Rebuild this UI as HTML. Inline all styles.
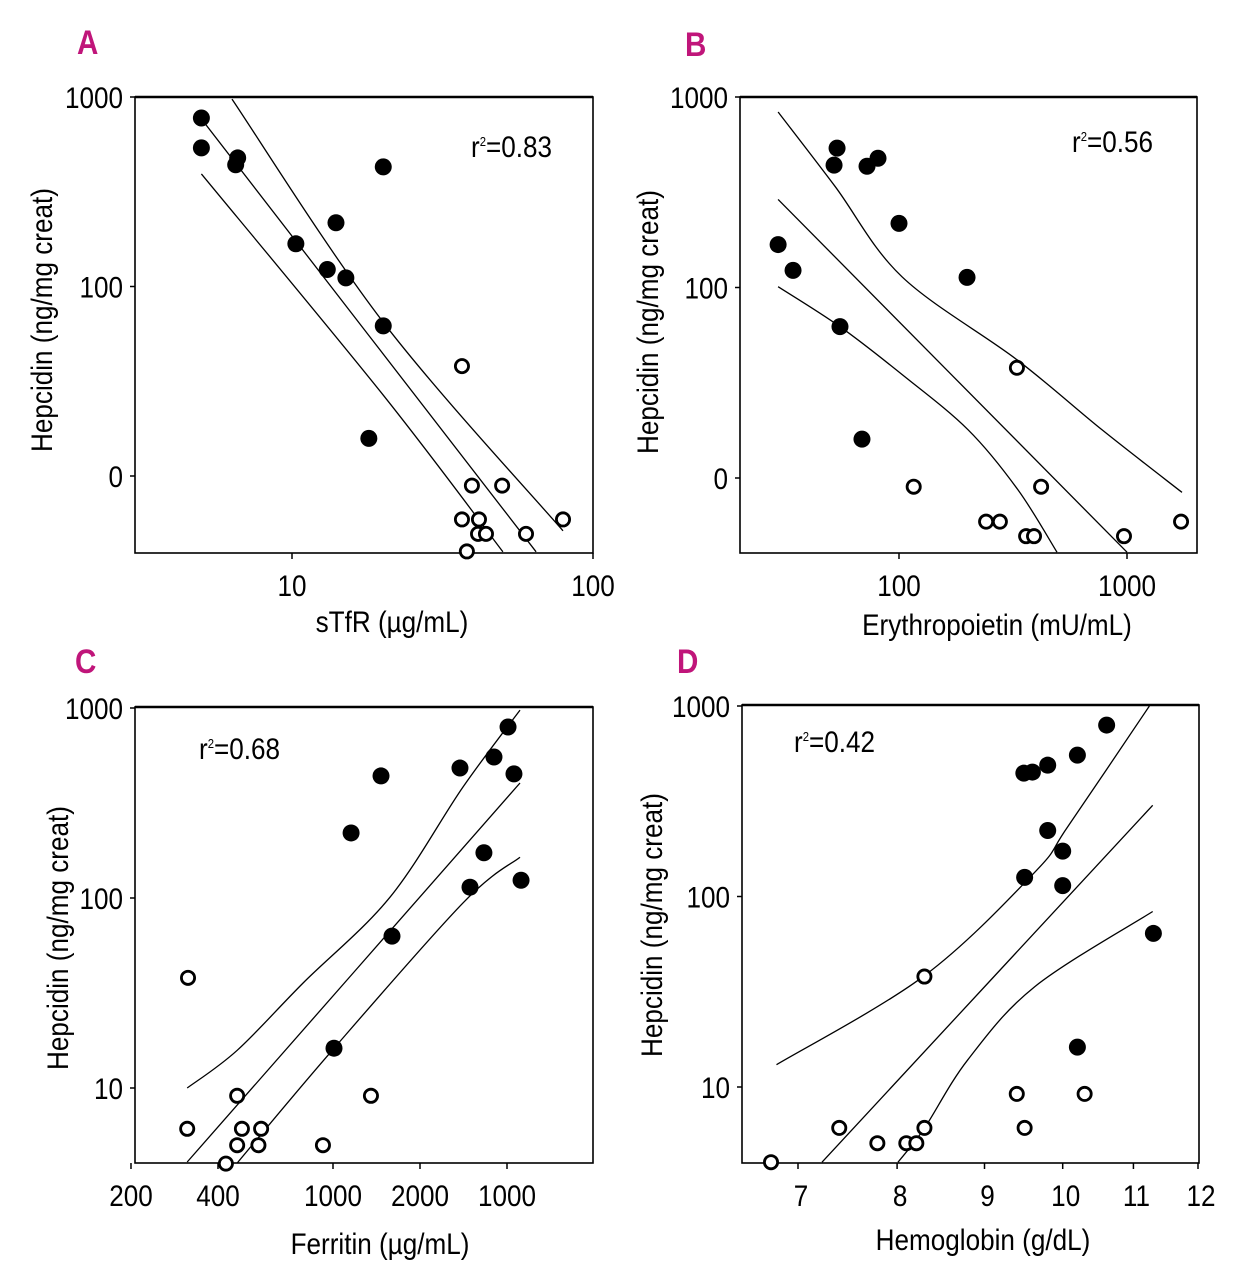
<!DOCTYPE html>
<html><head><meta charset="utf-8"><style>
html,body{margin:0;padding:0;background:#fff;}
svg{display:block;font-family:"Liberation Sans Narrow","Liberation Sans",sans-serif;}
</style></head><body>
<svg id="fig" width="1235" height="1280" viewBox="0 0 1235 1280"></svg>
<script>
// ---------- Panel A data (sTfR vs hepcidin) ----------
const aFilledX = [5.0, 5.0, 6.6, 6.5, 20.1, 14.0, 10.3, 13.1, 15.1, 20.1, 18.0];
const aFilledY = [775, 539, 477, 439, 428, 217, 168, 123, 111, 62, 15.8];
const aOpenX = [36.7, 39.6, 49.9, 36.7, 41.8, 41.5, 44.1, 59.9, 79.5, 38.1];
const aOpenY = [38, 8.9, 8.9, 5.9, 5.9, 4.95, 4.95, 4.95, 5.9, 4.0];
const aFitX = [5.0, 64.7];
const aFitY = [766, 3.98];
const aUpX = [6.32, 20.1, 79.5];
const aUpY = [975, 64.7, 5.14];
const aLoX = [5.0, 20.1, 50.2];
const aLoY = [393, 26.7, 3.98];
const aXTicks = [10, 100];
const aXTickLabels = ["10", "100"];
const aYTicks = [1000, 100, 10];
const aYTickLabels = ["1000", "100", "0"];

// ---------- Panel B data (Erythropoietin) ----------
const bFilledX = [53.5, 51.9, 72.4, 80.9, 100, 29.5, 34.3, 198.8, 55.1, 68.8];
const bFilledY = [539, 439, 433, 477, 217, 168, 123, 113, 62.3, 16.0];
const bOpenX = [329, 116, 420, 241, 277, 361, 391, 970, 1726];
const bOpenY = [37.9, 9.0, 9.0, 5.9, 5.9, 4.95, 4.95, 4.95, 5.9];
const bFitX = [29.5, 1000];
const bFitY = [290, 4.08];
const bUpX = [29.5, 52.4, 103, 329, 777, 1742];
const bUpY = [834, 340, 114, 41.8, 17.9, 8.4];
const bLoX = [29.5, 55.1, 103, 201, 333, 493];
const bLoY = [101, 62.3, 35, 17.9, 8.65, 4.08];
const bXTicks = [100, 1000];
const bXTickLabels = ["100", "1000"];
const bYTicks = [1000, 100, 10];
const bYTickLabels = ["1000", "100", "0"];

// ---------- Panel C data (Ferritin) ----------
const cFilledX = [4033, 3606, 2750, 4228, 1466, 1155, 3328, 2979, 4474, 1600, 1008];
const cFilledY = [794, 552, 483, 450, 439, 220, 173, 114, 124, 63, 16.2];
const cOpenX = [315, 466, 1353, 313, 484, 564, 466, 552, 923, 426];
const cOpenY = [38, 9.1, 9.1, 6.1, 6.1, 6.1, 5.0, 5.0, 5.0, 4.0];
const cFitX = [313, 4436];
const cFitY = [4.08, 403];
const cUpX = [313, 466, 788, 1575, 2818, 4436];
const cUpY = [10, 15.8, 35.7, 101, 384, 975];
const cLoX = [466, 976, 2818, 4436];
const cLoY = [4.03, 15.3, 94.2, 164];
const cXTicks = [200, 400, 1000, 2000, 4000];
const cXTickLabels = ["200", "400", "1000", "2000", "1000"];
const cYTicks = [1000, 100, 10];
const cYTickLabels = ["1000", "100", "10"];

// ---------- Panel D data (Hemoglobin) ----------
const dFilledX = [10.61, 10.2, 9.80, 9.60, 9.49, 9.80, 10.0, 9.50, 10.0, 11.3, 10.2];
const dFilledY = [794, 552, 489, 450, 444, 222, 173, 126, 114, 64, 16.2];
const dOpenX = [8.30, 9.40, 10.3, 7.40, 8.30, 9.50, 7.79, 8.10, 8.21, 6.75];
const dOpenY = [38, 9.2, 9.2, 6.1, 6.1, 6.1, 5.07, 5.07, 5.07, 4.03];
const dFitX = [7.23, 11.29];
const dFitY = [4.03, 301];
const dUpX = [6.80, 8.30, 9.63, 10.07, 11.24];
const dUpY = [13.1, 38.4, 134, 233, 1000];
const dLoX = [8.01, 8.30, 8.80, 9.63, 11.29];
const dLoY = [4.03, 6.08, 13.9, 33.6, 83.4];
const dXTicks = [7, 8, 9, 10, 11, 12];
const dXTickLabels = ["7", "8", "9", "10", "11", "12"];
const dYTicks = [1000, 100, 10];
const dYTickLabels = ["1000", "100", "10"];

const NS = "http://www.w3.org/2000/svg";
const svg = document.getElementById("fig");
const SX = 0.87;
function mk(tag, attrs, parent) {
  const e = document.createElementNS(NS, tag);
  for (const k in attrs) e.setAttribute(k, attrs[k]);
  (parent || svg).appendChild(e);
  return e;
}
function txt(parent, x, y, s, size, anchor, rot) {
  const t = mk("text", {x: 0, y: 0, "font-size": size, "text-anchor": anchor || "start",
    transform: "translate(" + x + "," + y + ")" + (rot ? " rotate(-90)" : "") + " scale(" + SX + ",1)"}, parent);
  t.textContent = s;
  return t;
}
function logScale(d0, d1, r0, r1) {
  const l0 = Math.log10(d0), l1 = Math.log10(d1);
  return v => r0 + (Math.log10(v) - l0) / (l1 - l0) * (r1 - r0);
}
function smoothPath(pts) {
  let d = "M" + pts[0][0].toFixed(1) + "," + pts[0][1].toFixed(1);
  for (let i = 0; i < pts.length - 1; i++) {
    const p0 = pts[i - 1] || pts[i], p1 = pts[i], p2 = pts[i + 1], p3 = pts[i + 2] || p2;
    const c1 = [p1[0] + (p2[0] - p0[0]) / 6, p1[1] + (p2[1] - p0[1]) / 6];
    const c2 = [p2[0] - (p3[0] - p1[0]) / 6, p2[1] - (p3[1] - p1[1]) / 6];
    d += "C" + c1.join(",") + " " + c2.join(",") + " " + p2.join(",");
  }
  return d;
}

function panel(cfg) {
  const [xa, pa, xb, pb] = cfg.xAnch;
  const per = (pb - pa) / (Math.log10(xb) - Math.log10(xa));
  const xmin = Math.pow(10, Math.log10(xa) - (pa - cfg.box[0]) / per);
  const xmax = Math.pow(10, Math.log10(xa) + (cfg.box[2] - pa) / per);
  const g = mk("g", {});
  
  
  const sx = logScale(xmin, xmax, cfg.box[0], cfg.box[2]);
  const sy = logScale(10, 1000, cfg.y10, cfg.y1000);
  const L = txt(g, cfg.letter[0], cfg.letter[1], cfg.id.toUpperCase(), 34, "start");
  L.setAttribute("font-weight", "bold");
  L.setAttribute("fill", "#c0157a");
  
  
  const [x0, y0, x1, y1] = cfg.box;
  const fr = mk("rect", {x: x0, y: y0, width: x1 - x0, height: y1 - y0, fill: "none", stroke: "#000", "stroke-width": 1.6}, g);
  
  
  mk("line", {x1: x0, y1: y0, x2: x1, y2: y0, stroke: "#000", "stroke-width": 2.6}, g);
  cfg.yt.forEach((v, i) => {
    const y = sy(v);
    mk("line", {x1: x0 - 5, y1: y, x2: x0, y2: y, stroke: "#000", "stroke-width": 1.5}, g);
    const t = txt(g, x0 - 12, y + 11, cfg.ytl[i], 30, "end");
    
    
  });
  cfg.xt.forEach((v, i) => {
    const x = sx(v);
    mk("line", {x1: x, y1: y1, x2: x, y2: y1 + 6, stroke: "#000", "stroke-width": 1.5}, g);
    const t = txt(g, x + (cfg.xlOff || 0), y1 + 43, cfg.xtl[i], 30, "middle");
    
    
  });
  const xt = txt(g, cfg.xTitle[0], cfg.xTitle[1], cfg.xlabel, 30, "middle");
  
  
  const yt = txt(g, cfg.yTitle[0], cfg.yTitle[1], "Hepcidin (ng/mg creat)", 30, "middle", true);
  
  
  const r = mk("text", {x: 0, y: 0, "font-size": 30, transform: "translate(" + cfg.r2[0] + "," + cfg.r2[1] + ") scale(" + SX + ",1)"}, g);
  r.innerHTML = 'r<tspan dy="-11" font-size="13">2</tspan><tspan dy="11">=' + cfg.r2t + '</tspan>';
  
  
  const lineSets = [[cfg.fitX, cfg.fitY, 'regression-line'], [cfg.upX, cfg.upY, 'upper-ci-line'], [cfg.loX, cfg.loY, 'lower-ci-line']];
  lineSets.forEach(([xs, ys, nm]) => {
    const pts = xs.map((v, i) => [+sx(v).toFixed(1), +sy(ys[i]).toFixed(1)]);
    const p = mk("path", {d: smoothPath(pts), fill: "none", stroke: "#000", "stroke-width": 1.3}, g);
    
    
  });
  cfg.fx.forEach((v, i) => {
    const c = mk("circle", {cx: sx(v), cy: sy(cfg.fy[i]), r: 8.5, fill: "#000"}, g);
    
    
  });
  cfg.ox.forEach((v, i) => {
    const c = mk("circle", {cx: sx(v), cy: sy(cfg.oy[i]), r: 6.6, fill: "#fff", stroke: "#000", "stroke-width": 2.8}, g);
    
    
  });
}

panel({id: "a", letter: [77, 54], box: [135, 97, 593, 553], xAnch: [10, 292, 100, 593], y10: 476, y1000: 97,
  xt: aXTicks, xtl: aXTickLabels, yt: aYTicks, ytl: aYTickLabels,
  xTitle: [392, 632], yTitle: [52, 320], xlabel: "sTfR (\u00b5g/mL)", r2: [471, 157], r2t: "0.83",
  fx: aFilledX, fy: aFilledY, ox: aOpenX, oy: aOpenY, fitX: aFitX, fitY: aFitY, upX: aUpX, upY: aUpY, loX: aLoX, loY: aLoY});
panel({id: "b", letter: [685, 56], box: [740, 97, 1197, 553], xAnch: [100, 899, 1000, 1127], y10: 478, y1000: 97,
  xt: bXTicks, xtl: bXTickLabels, yt: bYTicks, ytl: bYTickLabels,
  xTitle: [997, 635], yTitle: [658, 322], xlabel: "Erythropoietin (mU/mL)", r2: [1072, 152], r2t: "0.56",
  fx: bFilledX, fy: bFilledY, ox: bOpenX, oy: bOpenY, fitX: bFitX, fitY: bFitY, upX: bUpX, upY: bUpY, loX: bLoX, loY: bLoY});
panel({id: "c", letter: [75, 673], box: [135, 707, 593, 1163], xAnch: [1000, 333, 4000, 507], y10: 1088, y1000: 708,
  xt: cXTicks, xtl: cXTickLabels, yt: cYTicks, ytl: cYTickLabels,
  xTitle: [380, 1254], yTitle: [68, 938], xlabel: "Ferritin (\u00b5g/mL)", r2: [199, 759], r2t: "0.68",
  fx: cFilledX, fy: cFilledY, ox: cOpenX, oy: cOpenY, fitX: cFitX, fitY: cFitY, upX: cUpX, upY: cUpY, loX: cLoX, loY: cLoY});
panel({id: "d", letter: [677, 673], box: [742, 705, 1199, 1163], xAnch: [7, 798, 12, 1198], y10: 1087, y1000: 706,
  xt: dXTicks, xtl: dXTickLabels, yt: dYTicks, ytl: dYTickLabels, xlOff: 3,
  xTitle: [983, 1250], yTitle: [662, 925], xlabel: "Hemoglobin (g/dL)", r2: [794, 752], r2t: "0.42",
  fx: dFilledX, fy: dFilledY, ox: dOpenX, oy: dOpenY, fitX: dFitX, fitY: dFitY, upX: dUpX, upY: dUpY, loX: dLoX, loY: dLoY});
</script>
</body></html>
